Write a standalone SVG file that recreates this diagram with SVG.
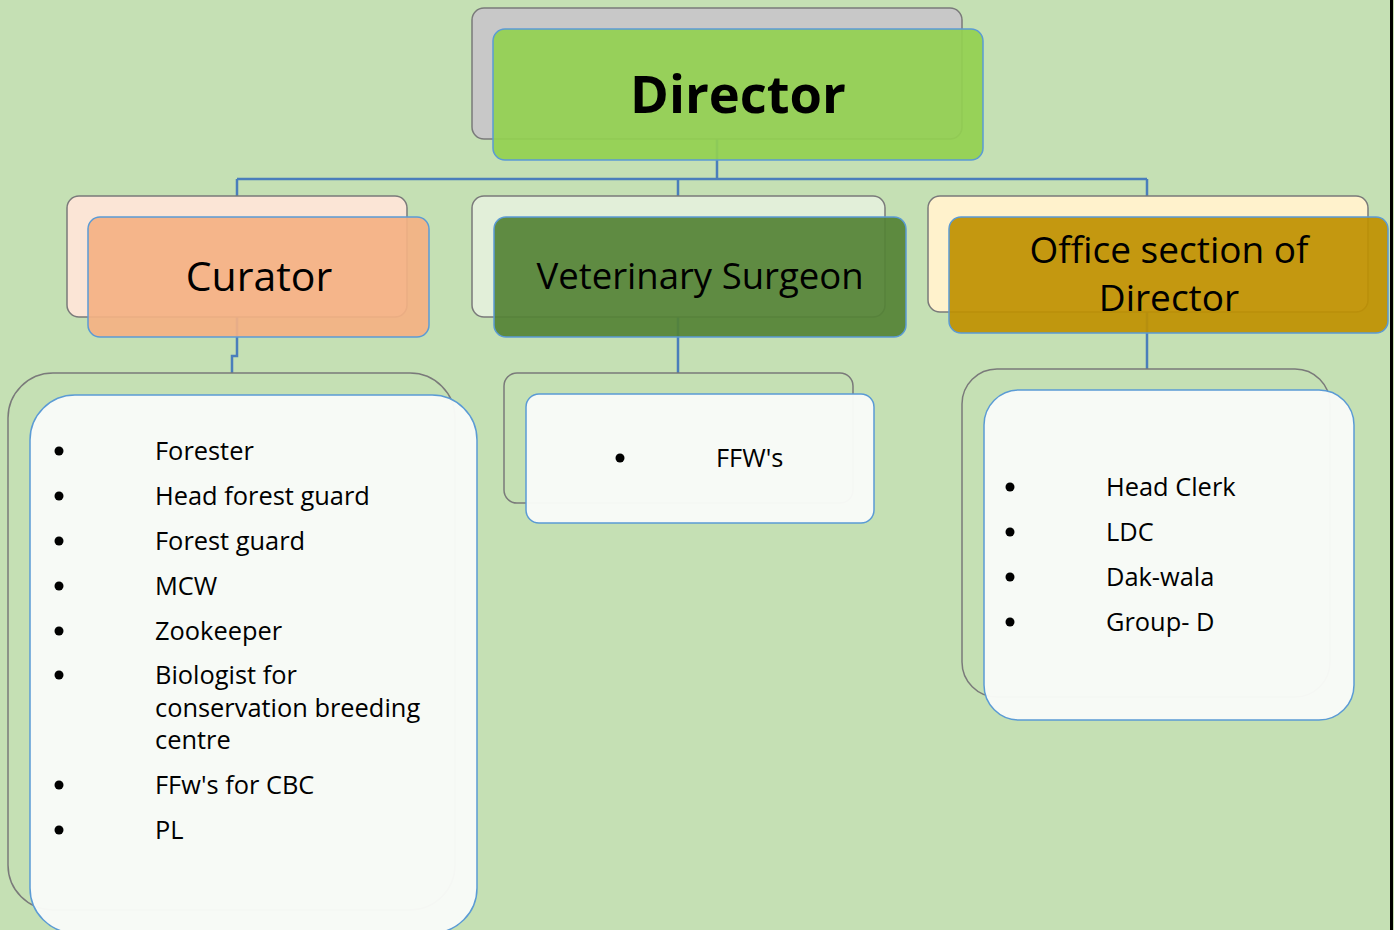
<svg xmlns="http://www.w3.org/2000/svg" width="1394" height="930" viewBox="0 0 1394 930">
<style>
.back{stroke:#7a7a7a;stroke-width:1.5}
.front{stroke:#5B9BD5;stroke-width:1.5}
.conn{fill:none;stroke:#4A7EBB;stroke-width:2.5}
.t{font-family:"Open Sans","Noto Sans","Liberation Sans",sans-serif;fill:#000}
.li{font-size:25.4px}
.bul{fill:#000}
.lst{fill:#F9FBF8;fill-opacity:0.97}
</style>
<rect x="0" y="0" width="1394" height="930" fill="#C5E0B4"/>
<rect x="1390" y="0" width="3" height="930" fill="#000"/>
<g id="connectors">
<path class="conn" d="M717,139 V179 M237,179 H1147 M237,179 V196 M678,179 V196 M1147,179 V196"/>
<path class="conn" d="M237,317 V356 H232 V373"/>
<path class="conn" d="M678,317 V373"/>
<path class="conn" d="M1147,312 V369"/>
</g>
<g id="director">
<rect class="back" x="472" y="8" width="490" height="131" rx="12" fill="#C8C8C8"/>
<rect class="front" x="493" y="29" width="490" height="131" rx="12" fill="#92D050" fill-opacity="0.92"/>
<text class="t" x="738" y="113" font-size="52.5" font-weight="bold" text-anchor="middle">Director</text>
</g>
<g id="curator">
<rect class="back" x="67" y="196" width="340" height="121" rx="12" fill="#FBE5D6"/>
<rect class="front" x="88" y="217" width="341" height="120" rx="12" fill="#F4B183" fill-opacity="0.92"/>
<text class="t" x="259" y="291" font-size="41" text-anchor="middle">Curator</text>
</g>
<g id="vet">
<rect class="back" x="472" y="196" width="413" height="121" rx="12" fill="#E2EFD9"/>
<rect class="front" x="494" y="217" width="412" height="120" rx="12" fill="#548235" fill-opacity="0.92"/>
<text class="t" x="700" y="289" font-size="36.5" text-anchor="middle">Veterinary Surgeon</text>
</g>
<g id="office">
<rect class="back" x="928" y="196" width="440" height="116" rx="12" fill="#FFF2CC"/>
<rect class="front" x="949" y="217" width="439" height="116" rx="12" fill="#BF9000" fill-opacity="0.92"/>
<text class="t" x="1169" y="263" font-size="37" text-anchor="middle">Office section of</text>
<text class="t" x="1169" y="311" font-size="37" text-anchor="middle">Director</text>
</g>
<g id="curator-list">
<rect class="back" x="8" y="373" width="447" height="537" rx="45" fill="#C5E0B4"/>
<rect class="front lst" x="30" y="395" width="447" height="538" rx="45"/>
<g class="bul">
<circle cx="59" cy="451" r="4.5"/>
<circle cx="59" cy="496" r="4.5"/>
<circle cx="59" cy="541" r="4.5"/>
<circle cx="59" cy="586" r="4.5"/>
<circle cx="59" cy="631" r="4.5"/>
<circle cx="59" cy="675" r="4.5"/>
<circle cx="59" cy="785" r="4.5"/>
<circle cx="59" cy="830" r="4.5"/>
</g>
<text class="t li" x="155" y="460">Forester</text>
<text class="t li" x="155" y="505">Head forest guard</text>
<text class="t li" x="155" y="550">Forest guard</text>
<text class="t li" x="155" y="595">MCW</text>
<text class="t li" x="155" y="640">Zookeeper</text>
<text class="t li" x="155" y="684">Biologist for</text>
<text class="t li" x="155" y="717">conservation breeding</text>
<text class="t li" x="155" y="749">centre</text>
<text class="t li" x="155" y="794">FFw's for CBC</text>
<text class="t li" x="155" y="839">PL</text>
</g>
<g id="vet-list">
<rect class="back" x="504" y="373" width="349" height="130" rx="13" fill="#C5E0B4"/>
<rect class="front lst" x="526" y="394" width="348" height="129" rx="13"/>
<circle class="bul" cx="620" cy="458" r="4.5"/>
<text class="t li" x="716" y="467">FFW's</text>
</g>
<g id="office-list">
<rect class="back" x="962" y="369" width="368" height="328" rx="35" fill="#C5E0B4"/>
<rect class="front lst" x="984" y="390" width="370" height="330" rx="35"/>
<g class="bul">
<circle cx="1010" cy="487" r="4.5"/>
<circle cx="1010" cy="532" r="4.5"/>
<circle cx="1010" cy="577" r="4.5"/>
<circle cx="1010" cy="622" r="4.5"/>
</g>
<text class="t li" x="1106" y="496">Head Clerk</text>
<text class="t li" x="1106" y="541">LDC</text>
<text class="t li" x="1106" y="586">Dak-wala</text>
<text class="t li" x="1106" y="631">Group- D</text>
</g>
</svg>
